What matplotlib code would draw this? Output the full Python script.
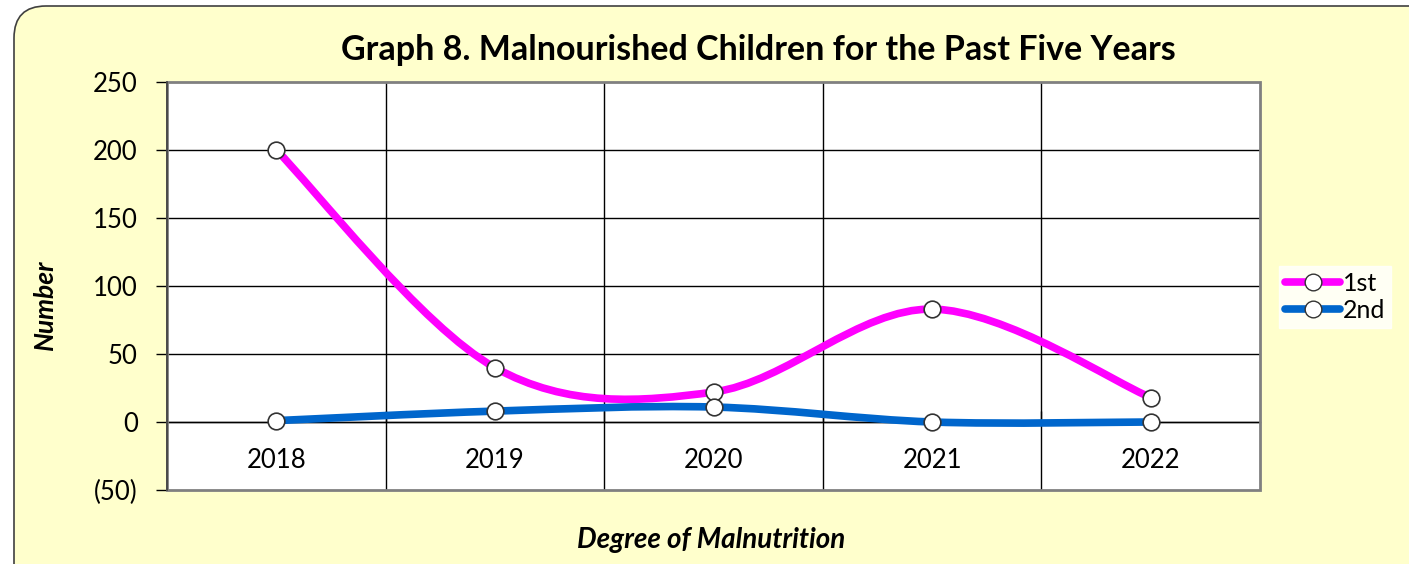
import matplotlib
matplotlib.use("Agg")
import matplotlib.pyplot as plt
from matplotlib.patches import FancyBboxPatch, Rectangle, PathPatch
from matplotlib.path import Path
from matplotlib.lines import Line2D

years = ["2018", "2019", "2020", "2021", "2022"]
first_degree = [200, 40, 22, 83, 18]
second_degree = [1, 8, 11, 0, 0]
y_ticks = [-50, 0, 50, 100, 150, 200, 250]

plt.rcParams["font.family"] = ["Lato", "DejaVu Sans"]


def smooth_path(xs, ys):
    # Excel-like smoothed line: cubic bezier through each point
    pts = list(zip(xs, ys))
    verts = [pts[0]]
    codes = [Path.MOVETO]
    n = len(pts)
    for i in range(n - 1):
        p0 = pts[i - 1] if i > 0 else pts[i]
        p1 = pts[i]
        p2 = pts[i + 1]
        p3 = pts[i + 2] if i + 2 < n else pts[i + 1]
        c1 = (p1[0] + (p2[0] - p0[0]) / 6, p1[1] + (p2[1] - p0[1]) / 6)
        c2 = (p2[0] - (p3[0] - p1[0]) / 6, p2[1] - (p3[1] - p1[1]) / 6)
        verts += [c1, c2, p2]
        codes += [Path.CURVE4] * 3
    return Path(verts, codes)


fig = plt.figure(figsize=(14.09, 5.64), dpi=100)
fig.patch.set_facecolor("white")

# rounded chart area background (inches)
bg = FancyBboxPatch((0.14, -0.5), 15, 5.64 - 0.06 + 0.5,
                    boxstyle="round,pad=0,rounding_size=0.32",
                    transform=fig.dpi_scale_trans, facecolor="#FFFFCC",
                    edgecolor="#404040", linewidth=1.2, zorder=-1)
fig.patches.append(bg)

ax = fig.add_axes([167 / 1409, 1 - 490 / 564, (1260 - 167) / 1409, (490 - 82) / 564])
ax.set_facecolor("white")

x = list(range(len(years)))
ax.set_xlim(-0.5, len(years) - 0.5)
ax.set_ylim(-50, 250)

# gridlines
for yv in y_ticks[1:-1]:
    ax.axhline(yv, color="black", linewidth=1.0, zorder=1)
for xv in range(len(years) - 1):
    ax.axvline(xv + 0.5, color="black", linewidth=1.0, zorder=1)

for vals, color in [(first_degree, "#FF00FF"), (second_degree, "#0066CC")]:
    ax.add_patch(PathPatch(smooth_path(x, vals), facecolor="none", edgecolor=color,
                           linewidth=5.5, capstyle="round", zorder=3))
    ax.plot(x, vals, linestyle="none", marker="o", markersize=12,
            markerfacecolor="white", markeredgecolor="#333333", markeredgewidth=1.2, zorder=4)

for s in ax.spines.values():
    s.set_visible(False)
ax.add_patch(Rectangle((0, 0), 1, 1, transform=ax.transAxes, fill=False,
                       edgecolor="#808080", linewidth=2, zorder=5, clip_on=False))
ax.spines["left"].set_visible(True)
ax.spines["left"].set_color("#404040")
ax.spines["left"].set_linewidth(1.2)
ax.spines["left"].set_zorder(6)
ax.spines["bottom"].set_visible(True)
ax.spines["bottom"].set_position(("data", 0))
ax.spines["bottom"].set_color("black")
ax.spines["bottom"].set_linewidth(1.0)

ax.set_yticks(y_ticks)
ax.set_yticklabels(["(50)" if v < 0 else str(v) for v in y_ticks], fontsize=18.5)
ax.tick_params(axis="y", length=8, width=1, color="black", pad=13)

ax.set_xticks(x)
ax.set_xticklabels(years, fontsize=18.5)
ax.tick_params(axis="x", length=0, pad=19)
ax.set_xticks([v + 0.5 for v in x[:-1]], minor=True)
ax.tick_params(axis="x", which="minor", length=8, width=1, color="black", direction="in")

fig.text(758 / 1409, 1 - 50 / 564, "Graph 8. Malnourished Children for the Past Five Years",
         ha="center", va="center", fontsize=24.5, fontweight="bold")
fig.text(45 / 1409, 1 - 305 / 564, "Number", rotation=90, ha="center", va="center",
         fontsize=19, fontweight="bold", style="italic")
fig.text(711 / 1409, 1 - 540 / 564, "Degree of Malnutrition", ha="center", va="center",
         fontsize=20, fontweight="bold", style="italic")

handles = [Line2D([], [], color=c, linewidth=5.5, marker="o", markersize=12,
                  markerfacecolor="white", markeredgecolor="#333333", solid_capstyle="round")
           for c in ["#FF00FF", "#0066CC"]]
leg = fig.legend(handles, ["1st", "2nd"], loc="center left",
                 bbox_to_anchor=(1279 / 1409, 1 - 297 / 564), frameon=True, fontsize=18,
                 handlelength=2.2, handletextpad=0.1, borderpad=0.25, labelspacing=0.15,
                 fancybox=False, borderaxespad=0)
leg.get_frame().set_facecolor("white")
leg.get_frame().set_edgecolor("white")

fig.savefig("out.png", dpi=100)
